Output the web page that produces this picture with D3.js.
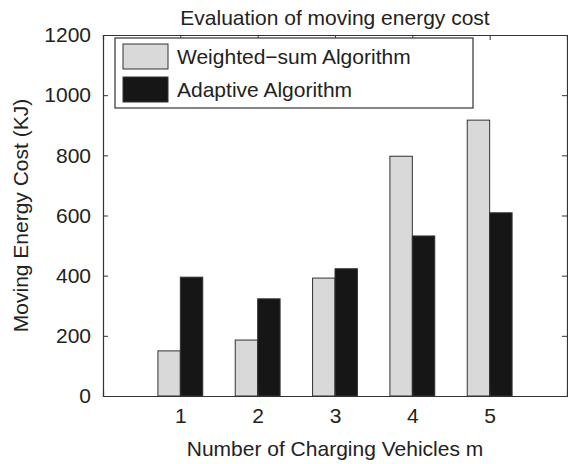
<!DOCTYPE html>
<html>
<head>
<meta charset="utf-8">
<script src="https://cdn.jsdelivr.net/npm/d3@7"></script>
<style>
  body { margin: 0; background: #fff; }
  text { font-family: "Liberation Sans", Arial, Helvetica, sans-serif; fill: #222; }
</style>
</head>
<body>
<svg id="drawing_region"></svg>
<script>
// chart values
const categories = [1, 2, 3, 4, 5];
const seriesNames = ["Weighted\u2212sum Algorithm", "Adaptive Algorithm"];
const weightedSum = [150, 186, 392, 797, 917];
const adaptive = [395, 323, 423, 532, 609];
const yTicks = [0, 200, 400, 600, 800, 1000, 1200];

const width = 568, height = 464;
const margin = {top: 35, right: 1, bottom: 68, left: 103};
const innerW = width - margin.left - margin.right;
const innerH = height - margin.top - margin.bottom;
const fills = ["#d9d9d9", "#161616"];
const series = [weightedSum, adaptive];
const fs = 21;

const svg = d3.select("#drawing_region")
    .attr("width", width)
    .attr("height", height);

const g = svg.append("g")
    .attr("transform", `translate(${margin.left},${margin.top})`);

const x = d3.scaleLinear().domain([0, 6]).range([0, innerW]);
const y = d3.scaleLinear().domain([0, 1200]).range([innerH, 0]);
const barW = x(0.29) - x(0);

// bars
series.forEach((vals, si) => {
    g.selectAll(".bar" + si)
        .data(vals)
        .enter()
        .append("rect")
        .attr("x", (d, i) => x(categories[i]) + (si - 1) * barW)
        .attr("y", d => y(d))
        .attr("width", barW)
        .attr("height", d => y(0) - y(d))
        .attr("fill", fills[si])
        .attr("stroke", "#333")
        .attr("stroke-width", 1);
});

// axes, ticks inward like matlab
const tickLen = 5;
g.append("g")
    .attr("transform", `translate(0,${innerH})`)
    .call(d3.axisBottom(x).tickValues(categories).tickSize(-tickLen).tickPadding(12).tickFormat(d3.format("d")));
g.append("g")
    .call(d3.axisTop(x).tickValues(categories).tickSize(-tickLen).tickFormat(""));
g.append("g")
    .call(d3.axisLeft(y).tickValues(yTicks).tickSize(-tickLen).tickPadding(12).tickFormat(d3.format("d")));
g.append("g")
    .attr("transform", `translate(${innerW},0)`)
    .call(d3.axisRight(y).tickValues(yTicks).tickSize(-tickLen).tickFormat(""));

g.selectAll(".domain").attr("stroke", "#333").attr("stroke-width", 1.2);
g.selectAll(".tick line").attr("stroke", "#333");
g.selectAll(".tick text").attr("font-size", fs).attr("fill", "#222")
    .attr("font-family", "Liberation Sans, Arial, sans-serif");

// title and axis labels
svg.append("text")
    .attr("x", margin.left + innerW / 2)
    .attr("y", 25)
    .attr("text-anchor", "middle")
    .attr("font-size", fs)
    .text("Evaluation of moving energy cost");

svg.append("text")
    .attr("x", margin.left + innerW / 2)
    .attr("y", 456)
    .attr("text-anchor", "middle")
    .attr("font-size", fs)
    .text("Number of Charging Vehicles m");

svg.append("text")
    .attr("transform", `translate(28,${margin.top + innerH / 2}) rotate(-90)`)
    .attr("text-anchor", "middle")
    .attr("font-size", fs)
    .text("Moving Energy Cost (KJ)");

// legend
const legend = svg.append("g").attr("transform", "translate(115,38)");
legend.append("rect")
    .attr("width", 358).attr("height", 70)
    .attr("fill", "#fff").attr("stroke", "#333").attr("stroke-width", 1.2);
seriesNames.forEach((name, i) => {
    legend.append("rect")
        .attr("x", 8).attr("y", 6 + i * 33)
        .attr("width", 45).attr("height", 25)
        .attr("fill", fills[i]).attr("stroke", "#333");
    legend.append("text")
        .attr("x", 62).attr("y", 26 + i * 33)
        .attr("font-size", fs)
        .text(name);
});
</script>
</body>
</html>
